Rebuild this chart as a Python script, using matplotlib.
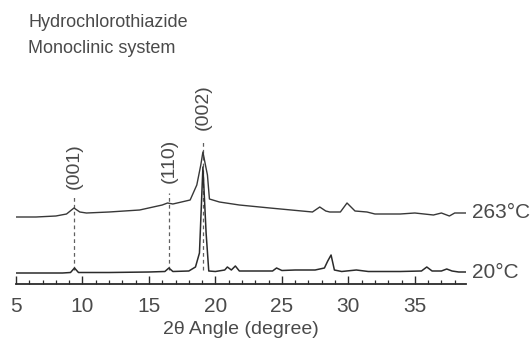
import matplotlib
matplotlib.use("Agg")
import matplotlib.pyplot as plt
import numpy as np

plt.rcParams['font.family'] = ['Liberation Sans', 'DejaVu Sans']

# 2theta (degree) and intensity above baseline (a.u.)
theta_20 = [5.0, 6.5, 8.5, 9.1, 9.4, 9.7, 12.0, 15.0, 16.2, 16.5, 16.8, 18.0, 18.5,
            18.8, 19.06, 19.3, 19.5, 20.0, 20.7, 20.9, 21.2, 21.5, 21.8, 23.0, 24.3,
            24.6, 25.0, 26.0, 27.5, 28.2, 28.45, 28.7, 28.95, 29.5, 30.6, 31.5, 33.9,
            35.5, 35.9, 36.3, 37.0, 37.4, 37.8, 38.3, 38.85]
int_20 = [0, 0, 0, 0.5, 5, 0.5, 0.5, 1, 1.5, 5, 1.5, 2, 6,
          20, 106, 40, 2, 1.5, 3, 6, 3, 7, 2, 2, 2,
          5, 2.5, 3, 3, 5, 12, 18, 3, 1.5, 3, 1.5, 1.5,
          2, 6, 2, 2, 4, 2, 1, 1]

theta_263 = [5.0, 6.5, 8.0, 8.8, 9.36, 9.8, 10.3, 12.0, 14.3, 16.0, 16.4, 16.8, 18.1,
             18.6, 18.9, 19.06, 19.25, 19.4, 19.55, 20.3, 21.8, 24.1, 26.5, 27.3, 27.85,
             28.3, 28.6, 29.4, 29.9, 30.5, 31.4, 32.0, 33.9, 35.0, 36.4, 37.0, 37.6,
             38.0, 38.85]
int_263 = [7, 7, 8, 10, 16, 12, 11, 12, 14, 19, 21, 20, 24,
           39, 59, 72, 59, 49, 25, 22, 19, 16, 13, 12, 17,
           13, 12, 12, 21, 13, 12, 10, 10, 11, 9, 11, 8,
           11, 11]

hkl_labels = ["(001)", "(110)", "(002)"]
hkl_pos = [9.4, 16.5, 19.06]

# layout (pixel-like units above the axis line)
base_20 = 11
base_263 = 60
dash_top = [87, 91, 144]
label_y = [118, 123, 177]

ink = "#2b2b2b"
txt = "#4a4a4a"

fig = plt.figure(figsize=(5.32, 3.44), dpi=100)
ax = fig.add_axes([16/532, 60/344, 450/532, 284/344])

x20 = np.array(theta_20)
y20 = np.array(int_20) + base_20
x263 = np.array(theta_263)
y263 = np.array(int_263) + base_263

ax.vlines(hkl_pos, 14, dash_top, colors="#606060", linestyles=(0, (3, 2.5)), linewidth=0.9)
ax.plot(x20, y20, color=ink, lw=1.1)
ax.plot(x263, y263, color="#383838", lw=1.0)

for lab, xp, yp in zip(hkl_labels, hkl_pos, label_y):
    ax.text(xp, yp, lab, rotation=90, ha="center", va="center", fontsize=14,
            color=txt, clip_on=False)

ax.text(39.3, y263[-1], "263°C", ha="left", va="center", fontsize=15, color=txt, clip_on=False)
ax.text(39.3, y20[-1], "20°C", ha="left", va="center", fontsize=15, color=txt, clip_on=False)

ax.set_xlim(5, 38.85)
ax.set_ylim(0, 284)
for s in ["left", "right", "top"]:
    ax.spines[s].set_visible(False)
ax.spines["bottom"].set_linewidth(1.3)
ax.spines["bottom"].set_color(ink)
ax.set_yticks([])
ax.set_xticks(np.arange(5, 39, 5))
ax.set_xticks(np.arange(5, 39, 1), minor=True)
ax.tick_params(axis="x", which="major", direction="in", length=6, width=1.0,
               colors=ink, labelcolor=txt, labelsize=15, pad=9)
ax.tick_params(axis="x", which="minor", direction="in", length=3, width=0.9, colors=ink)
ax.set_xlabel("2θ Angle (degree)", fontsize=14, color=txt, labelpad=4)

fig.text(28/532, 1 - 27/344, "Hydrochlorothiazide", fontsize=13, color=txt, va="baseline")
fig.text(28/532, 1 - 53/344, "Monoclinic system", fontsize=13, color=txt, va="baseline")

fig.savefig("out.png", dpi=100)
